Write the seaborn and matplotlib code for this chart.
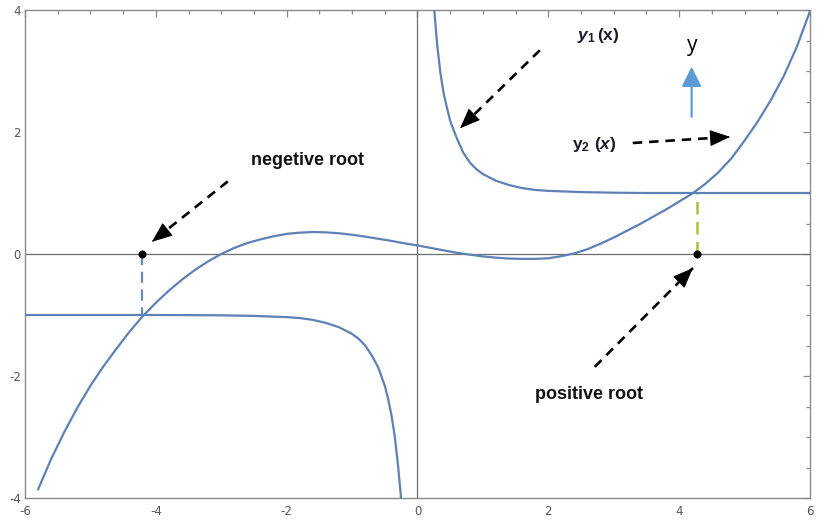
import matplotlib
matplotlib.use("Agg")
import matplotlib.pyplot as plt
import seaborn as sns
import pandas as pd
from matplotlib.ticker import MultipleLocator

# ---- y1(x): two branches (x > 0 and x < 0) ----
y1_pos_x = [0.25, 0.3, 0.35, 0.4, 0.45, 0.5, 0.6, 0.7, 0.8, 0.9, 1.0, 1.2, 1.4,
            1.6, 1.8, 2.0, 2.5, 3.0, 3.5, 4.0, 5.0, 6.0]
y1_pos_y = [4.08, 3.44, 2.97, 2.63, 2.40, 2.18, 1.90, 1.66, 1.50, 1.39, 1.31, 1.20,
            1.13, 1.08, 1.05, 1.035, 1.015, 1.005, 1.0, 1.0, 1.0, 1.0]
y1_neg_x = [-6.0, -5.0, -4.0, -3.0, -2.5, -2.0, -1.8, -1.6, -1.4, -1.2, -1.0, -0.9,
            -0.8, -0.7, -0.6, -0.5, -0.45, -0.4, -0.35, -0.3, -0.26, -0.23]
y1_neg_y = [-1.0, -1.0, -1.0, -1.005, -1.015, -1.035, -1.05, -1.08, -1.13, -1.20,
            -1.31, -1.39, -1.50, -1.66, -1.86, -2.16, -2.37, -2.63, -2.97, -3.44,
            -3.90, -4.30]

# ---- y2(x) ----
y2_x = [-5.8, -5.6, -5.4, -5.2, -5.0, -4.8, -4.6, -4.4, -4.2, -4.0, -3.8, -3.6,
        -3.4, -3.2, -3.0, -2.8, -2.6, -2.4, -2.2, -2.0, -1.8, -1.6, -1.4, -1.2,
        -1.0, -0.8, -0.6, -0.4, -0.2, 0.0, 0.2, 0.4, 0.6, 0.8, 1.0, 1.2, 1.4, 1.6,
        1.8, 2.0, 2.2, 2.4, 2.6, 2.8, 3.0, 3.2, 3.4, 3.6, 3.8, 4.0, 4.2, 4.4, 4.6,
        4.8, 5.0, 5.2, 5.4, 5.6, 5.8, 6.0]
y2_y = [-3.86, -3.36, -2.92, -2.52, -2.16, -1.84, -1.55, -1.27, -1.02, -0.80,
        -0.60, -0.42, -0.26, -0.12, 0.00, 0.10, 0.18, 0.24, 0.29, 0.33, 0.35, 0.36,
        0.355, 0.34, 0.315, 0.285, 0.25, 0.215, 0.175, 0.14, 0.10, 0.06, 0.02,
        -0.01, -0.04, -0.06, -0.075, -0.08, -0.08, -0.07, -0.035, 0.01, 0.08,
        0.17, 0.27, 0.38, 0.49, 0.61, 0.73, 0.86, 0.99, 1.15, 1.34, 1.57, 1.86,
        2.17, 2.52, 2.92, 3.40, 3.98]

# ---- roots (intersections of y1 and y2) ----
root_x = [-4.21, 4.27]
root_level = [-1.0, 1.0]

x_ticks = [-6, -4, -2, 0, 2, 4, 6]
y_ticks = [-4, -2, 0, 2, 4]

sns.set_style("white")
plt.rcParams["font.family"] = ["DejaVu Sans"]
plt.rcParams["axes.unicode_minus"] = False
plt.rcParams["mathtext.fontset"] = "custom"
plt.rcParams["mathtext.rm"] = "Liberation Sans:bold"
plt.rcParams["mathtext.it"] = "Liberation Sans:bold:italic"
plt.rcParams["mathtext.bf"] = "Liberation Sans:bold"

curve_color = "#5E81B5"
frame_color = "#8a8a8a"

fig = plt.figure(figsize=(8.17, 5.24), dpi=100)
ax = fig.add_axes([25 / 817, 26 / 524, 785 / 817, 488 / 524])

# coordinate axes through the origin
ax.axhline(0, color="#6e6e6e", lw=0.9, zorder=1)
ax.axvline(0, color="#6e6e6e", lw=0.9, zorder=1)

for xs, ys in [(y1_pos_x, y1_pos_y), (y1_neg_x, y1_neg_y), (y2_x, y2_y)]:
    sns.lineplot(x=xs, y=ys, ax=ax, color=curve_color, lw=1.6, sort=False,
                 estimator=None, zorder=3)

# vertical guides from the roots to the intersection points
ax.plot([root_x[0], root_x[0]], [0, root_level[0]], color="#6b88b3", lw=1.6,
        dashes=(5, 3), zorder=2)
ax.plot([root_x[1], root_x[1]], [0, root_level[1]], color="#a8c23a", lw=1.8,
        dashes=(5, 3), zorder=2)

roots = pd.DataFrame({"x": root_x, "y": [0.0, 0.0]})
sns.scatterplot(data=roots, x="x", y="y", ax=ax, color="black", s=28,
                marker="o", edgecolor="black", zorder=5)

ax.set_xlim(-6, 6)
ax.set_ylim(-4, 4)
ax.set_xticks(x_ticks)
ax.set_yticks(y_ticks)
ax.xaxis.set_minor_locator(MultipleLocator(0.5))
ax.yaxis.set_minor_locator(MultipleLocator(0.5))
ax.tick_params(which="both", direction="in", top=True, right=True,
               color=frame_color, width=0.9)
ax.tick_params(which="major", length=5, labelsize=8.5, labelcolor="#555555")
ax.tick_params(axis="x", which="major", pad=5)
ax.tick_params(axis="y", which="major", pad=3)
ax.tick_params(which="minor", length=3)
for s in ax.spines.values():
    s.set_color(frame_color)
    s.set_linewidth(1.0)
ax.set_xlabel("")
ax.set_ylabel("")

label_kw = dict(fontsize=13, fontweight="bold", family=["Liberation Sans"],
                color="#111111", ha="center", va="center", zorder=6)
ax.text(-1.68, 1.53, "negetive root", **label_kw)
ax.text(2.62, -2.31, "positive root", **label_kw)
ax.text(2.76, 3.59, r"$y_1\,\mathrm{(x)}$", fontsize=12.5, color="#1a1a2a",
        ha="center", va="center", zorder=6)
ax.text(2.71, 1.79, r"$\mathrm{y_2}\ \mathrm{(}x\mathrm{)}$", fontsize=12.5,
        color="#1a1a2a", ha="center", va="center", zorder=6)
ax.text(4.20, 3.33, "y", fontsize=15, family=["Open Sans"], color="black",
        ha="center", va="baseline", zorder=6)


def dashed_arrow(start, end):
    # dashed shaft
    ax.plot([start[0], end[0]], [start[1], end[1]], color="black", lw=1.9,
            dashes=(3.6, 2.6), solid_capstyle="butt", zorder=6)
    # solid filled head at the tip
    back = (end[0] - 0.02 * (end[0] - start[0]), end[1] - 0.02 * (end[1] - start[1]))
    ax.annotate("", xy=end, xytext=back, zorder=7,
                arrowprops=dict(arrowstyle="-|>,head_length=0.65,head_width=0.26",
                                mutation_scale=20, color="black", lw=0.8,
                                shrinkA=0, shrinkB=0))


dashed_arrow((-2.90, 1.19), (-4.06, 0.20))
dashed_arrow((1.87, 3.34), (0.65, 2.06))
dashed_arrow((3.29, 1.82), (4.78, 1.92))
dashed_arrow((2.71, -1.85), (4.21, -0.23))

# upward arrow next to the "y" label
ax.annotate("", xy=(4.19, 3.07), xytext=(4.19, 2.25), zorder=6,
            arrowprops=dict(arrowstyle="-|>,head_length=0.6,head_width=0.3",
                            mutation_scale=20, color="#5B9BD5", lw=1.6,
                            shrinkA=0, shrinkB=0))

fig.savefig("out.png", dpi=100, facecolor="white")
